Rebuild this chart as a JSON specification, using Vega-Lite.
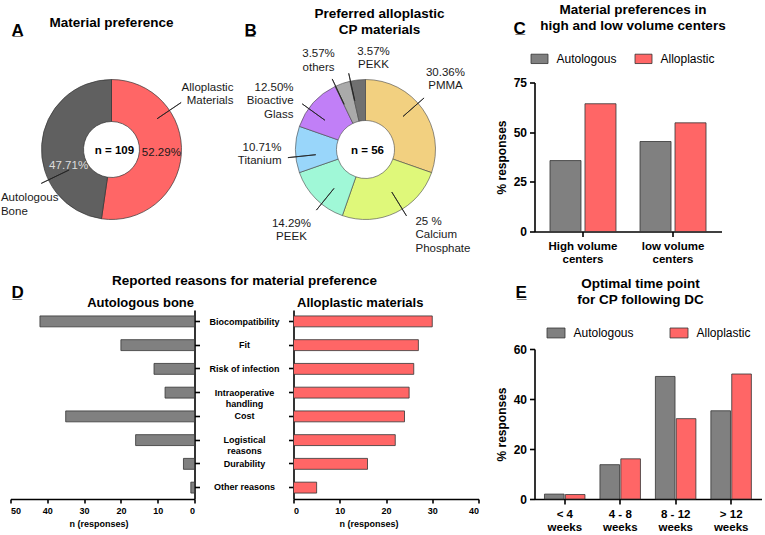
{
  "$schema": "https://vega.github.io/schema/vega-lite/v6.json",
  "background": "white",
  "padding": {"left": 0.5, "top": 2.5, "right": 0, "bottom": 0},
  "config": {
    "font": "Liberation Sans",
    "view": {"stroke": null},
    "title": {"font": "Liberation Sans", "fontSize": 13.5, "fontWeight": "bold", "color": "#000000", "lineHeight": 16},
    "axis": {"domainColor": "#000000", "domainWidth": 1.6, "tickColor": "#000000", "tickWidth": 1.6, "tickSize": 5, "labelColor": "#000000", "labelFont": "Liberation Sans", "labelFontWeight": "bold", "titleFont": "Liberation Sans", "titleFontWeight": "bold", "titleColor": "#000000", "grid": false},
    "legend": {"labelFont": "Liberation Sans", "labelColor": "#000000", "padding": 0},
    "text": {"font": "Liberation Sans"}
  },
  "datasets": {
    "empty": [],
    "prefA": [
      {"material": "Alloplastic\nMaterials", "pct": 52.29, "label": "52.29%", "idx": 1},
      {"material": "Autologous\nBone", "pct": 47.71, "label": "47.71%", "idx": 2}
    ],
    "prefB": [
      {"material": "PMMA", "pct": 30.36, "label": "30.36%\nPMMA", "idx": 1},
      {"material": "Calcium Phosphate", "pct": 25, "label": "25 %\nCalcium\nPhosphate", "idx": 2},
      {"material": "PEEK", "pct": 14.29, "label": "14.29%\nPEEK", "idx": 3},
      {"material": "Titanium", "pct": 10.71, "label": "10.71%\nTitanium", "idx": 4},
      {"material": "Bioactive Glass", "pct": 12.5, "label": "12.50%\nBioactive\nGlass", "idx": 5},
      {"material": "others", "pct": 3.57, "label": "3.57%\nothers", "idx": 6},
      {"material": "PEKK", "pct": 3.57, "label": "3.57%\nPEKK", "idx": 7}
    ],
    "reasons": [
      {"reason": "Biocompatibility", "autologous": 42, "alloplastic": 30},
      {"reason": "Fit", "autologous": 20, "alloplastic": 27},
      {"reason": "Risk of infection", "autologous": 11, "alloplastic": 26},
      {"reason": "Intraoperative\nhandling", "autologous": 8, "alloplastic": 25},
      {"reason": "Cost", "autologous": 35, "alloplastic": 24},
      {"reason": "Logistical\nreasons", "autologous": 16, "alloplastic": 22},
      {"reason": "Durability", "autologous": 3, "alloplastic": 16},
      {"reason": "Other reasons", "autologous": 1, "alloplastic": 5}
    ]
  },
  "spacing": 8.5,
  "resolve": {"scale": {"color": "independent", "xOffset": "independent"}, "legend": {"color": "independent"}},
  "vconcat": [
    {
      "spacing": 0,
      "bounds": "flush",
      "resolve": {"scale": {"color": "independent", "xOffset": "independent"}, "legend": {"color": "independent"}},
      "hconcat": [
        {"width": 1, "height": 134, "title": {"text": "A\u0332", "anchor": "start", "frame": "group", "fontSize": 17, "dx": 2, "offset": 43},
         "data": {"name": "empty"}, "mark": "point", "encoding": {}},
        {
          "width": 202, "height": 134,
          "title": {"text": "Material preference", "frame": "group", "offset": 49},
          "data": {"name": "prefA"},
          "resolve": {"scale": {"theta": "independent"}},
          "layer": [
            {"mark": {"type": "arc", "innerRadius": 28, "outerRadius": 70, "stroke": "#333333", "strokeWidth": 0.7},
             "encoding": {
               "theta": {"field": "pct", "type": "quantitative", "stack": true},
               "order": {"field": "idx", "type": "ordinal"},
               "color": {"field": "material", "type": "nominal", "scale": {"domain": ["Alloplastic\nMaterials", "Autologous\nBone"], "range": ["#FF6666", "#606060"]}, "legend": null}
             }},
            {"mark": {"type": "text", "radius": 50, "dy": -0.5, "fontSize": 11.5, "color": "#1a1a1a"},
             "encoding": {
               "theta": {"field": "pct", "type": "quantitative", "stack": true},
               "order": {"field": "idx", "type": "ordinal"},
               "text": {"condition": {"test": "datum.idx === 1", "field": "label"}, "value": ""}
             }},
            {"mark": {"type": "text", "radius": 45, "dx": 2, "dy": 20, "fontSize": 11.5, "color": "#dddddd"},
             "encoding": {
               "theta": {"field": "pct", "type": "quantitative", "stack": true},
               "order": {"field": "idx", "type": "ordinal"},
               "text": {"condition": {"test": "datum.idx === 2", "field": "label"}, "value": ""}
             }},
            {"transform": [{"stack": "pct", "groupby": [], "sort": [{"field": "idx", "order": "ascending"}], "as": ["s0", "s1"]}],
             "mark": {"type": "arc", "innerRadius": 55, "outerRadius": 84, "stroke": "#222222", "strokeWidth": 0.8, "fill": "transparent"},
             "encoding": {
               "theta": {"field": "s0", "type": "quantitative", "scale": {"domain": [0, 100], "range": [0.9774, 7.2606]}},
               "theta2": {"field": "s0"},
               "strokeOpacity": {"condition": {"test": "datum.idx === 1", "value": 1}, "value": 0}
             }},
            {"transform": [{"stack": "pct", "groupby": [], "sort": [{"field": "idx", "order": "ascending"}], "as": ["s0", "s1"]}],
             "mark": {"type": "arc", "innerRadius": 47, "outerRadius": 78, "stroke": "#222222", "strokeWidth": 0.8, "fill": "transparent"},
             "encoding": {
               "theta": {"field": "s0", "type": "quantitative", "scale": {"domain": [0, 100], "range": [0.9774, 7.2606]}},
               "theta2": {"field": "s0"},
               "strokeOpacity": {"condition": {"test": "datum.idx === 2", "value": 1}, "value": 0}
             }},
            {"transform": [{"stack": "pct", "groupby": [], "sort": [{"field": "idx", "order": "ascending"}], "as": ["s0", "s1"]}],
             "mark": {"type": "text", "radius": 100, "dx": 39, "dy": -6, "align": "right", "fontSize": 11.5, "lineBreak": "\n", "lineHeight": 13.5, "color": "#1a1a1a"},
             "encoding": {
               "theta": {"field": "s0", "type": "quantitative", "scale": {"domain": [0, 100], "range": [0.9774, 7.2606]}},
               "text": {"condition": {"test": "datum.idx === 1", "field": "material"}, "value": ""}
             }},
            {"transform": [{"stack": "pct", "groupby": [], "sort": [{"field": "idx", "order": "ascending"}], "as": ["s0", "s1"]}],
             "mark": {"type": "text", "radius": 90, "dx": -29.5, "dy": 9.5, "align": "left", "fontSize": 11.5, "lineBreak": "\n", "lineHeight": 13.5, "color": "#1a1a1a"},
             "encoding": {
               "theta": {"field": "s0", "type": "quantitative", "scale": {"domain": [0, 100], "range": [0.9774, 7.2606]}},
               "text": {"condition": {"test": "datum.idx === 2", "field": "material"}, "value": ""}
             }},
            {"data": {"values": [{"t": "n = 109"}]},
             "mark": {"type": "text", "fontSize": 11.5, "fontWeight": "bold", "dx": 3, "dy": 1, "color": "#000000"},
             "encoding": {"text": {"field": "t", "type": "nominal"}}}
          ]
        },
        {"width": 1, "height": 134, "title": {"text": "B\u0332", "anchor": "start", "frame": "group", "fontSize": 17, "dx": 32, "offset": 43},
         "data": {"name": "empty"}, "mark": "point", "encoding": {}},
        {
          "width": 304, "height": 134,
          "title": {"text": ["Preferred alloplastic", "CP materials"], "frame": "group", "dx": 14, "offset": -11},
          "data": {"name": "prefB"},
          "resolve": {"scale": {"theta": "independent"}},
          "layer": [
            {"mark": {"type": "arc", "innerRadius": 29, "outerRadius": 70, "stroke": "#444444", "strokeWidth": 0.6},
             "encoding": {
               "theta": {"field": "pct", "type": "quantitative", "stack": true},
               "order": {"field": "idx", "type": "ordinal"},
               "color": {"field": "material", "type": "nominal", "scale": {"domain": ["PMMA", "Calcium Phosphate", "PEEK", "Titanium", "Bioactive Glass", "others", "PEKK"], "range": ["#F2D080", "#DFF87A", "#A0F8D7", "#99D6FA", "#C17FF7", "#AAAAAA", "#707070"]}, "legend": null}
             }},
            {"mark": {"type": "arc", "innerRadius": 50, "outerRadius": 78, "padAngle": 3.1416, "stroke": "#222222", "strokeWidth": 0.8, "fill": "transparent"},
             "encoding": {
               "theta": {"field": "pct", "type": "quantitative", "stack": true, "scale": {"range": [-0.1047, 6.1785]}},
               "order": {"field": "idx", "type": "ordinal"}
             }},
            {"mark": {"type": "text", "radius": 100, "dx": -1.6, "dy": -18.75, "align": "center", "fontSize": 11.5, "lineBreak": "\n", "lineHeight": 13.5, "color": "#1a1a1a"},
             "encoding": {"theta": {"field": "pct", "type": "quantitative", "stack": true}, "order": {"field": "idx", "type": "ordinal"},
               "text": {"condition": {"test": "datum.idx === 1", "field": "label"}, "value": ""}}},
            {"mark": {"type": "text", "radius": 100, "dx": 6.6, "dy": -18.1, "align": "left", "fontSize": 11.5, "lineBreak": "\n", "lineHeight": 13.5, "color": "#1a1a1a"},
             "encoding": {"theta": {"field": "pct", "type": "quantitative", "stack": true}, "order": {"field": "idx", "type": "ordinal"},
               "text": {"condition": {"test": "datum.idx === 2", "field": "label"}, "value": ""}}},
            {"mark": {"type": "text", "radius": 100, "dx": -3.3, "dy": 3.5, "align": "center", "fontSize": 11.5, "lineBreak": "\n", "lineHeight": 13.5, "color": "#1a1a1a"},
             "encoding": {"theta": {"field": "pct", "type": "quantitative", "stack": true}, "order": {"field": "idx", "type": "ordinal"},
               "text": {"condition": {"test": "datum.idx === 3", "field": "label"}, "value": ""}}},
            {"mark": {"type": "text", "radius": 85, "dx": 1, "dy": -1.75, "align": "right", "fontSize": 11.5, "lineBreak": "\n", "lineHeight": 13.5, "color": "#1a1a1a"},
             "encoding": {"theta": {"field": "pct", "type": "quantitative", "stack": true}, "order": {"field": "idx", "type": "ordinal"},
               "text": {"condition": {"test": "datum.idx === 4", "field": "label"}, "value": ""}}},
            {"mark": {"type": "text", "radius": 85, "dx": -8.6, "dy": -5.3, "align": "right", "fontSize": 11.5, "lineBreak": "\n", "lineHeight": 13.5, "color": "#1a1a1a"},
             "encoding": {"theta": {"field": "pct", "type": "quantitative", "stack": true}, "order": {"field": "idx", "type": "ordinal"},
               "text": {"condition": {"test": "datum.idx === 5", "field": "label"}, "value": ""}}},
            {"mark": {"type": "text", "radius": 95, "dx": -15.6, "dy": -5.5, "align": "center", "fontSize": 11.5, "lineBreak": "\n", "lineHeight": 13.5, "color": "#1a1a1a"},
             "encoding": {"theta": {"field": "pct", "type": "quantitative", "stack": true}, "order": {"field": "idx", "type": "ordinal"},
               "text": {"condition": {"test": "datum.idx === 6", "field": "label"}, "value": ""}}},
            {"mark": {"type": "text", "radius": 95, "dx": 18.6, "dy": -3.35, "align": "center", "fontSize": 11.5, "lineBreak": "\n", "lineHeight": 13.5, "color": "#1a1a1a"},
             "encoding": {"theta": {"field": "pct", "type": "quantitative", "stack": true}, "order": {"field": "idx", "type": "ordinal"},
               "text": {"condition": {"test": "datum.idx === 7", "field": "label"}, "value": ""}}},
            {"data": {"values": [{"t": "n = 56"}]},
             "mark": {"type": "text", "fontSize": 11.5, "fontWeight": "bold", "dx": 2, "dy": 1, "color": "#000000"},
             "encoding": {"text": {"field": "t", "type": "nominal"}}}
          ]
        },
        {"width": 17, "height": 134, "title": {"text": "C\u0332", "anchor": "start", "frame": "group", "fontSize": 17, "dx": -4, "offset": 45},
         "data": {"name": "empty"}, "mark": "point", "encoding": {}},
        {
          "width": 187, "height": 149,
          "title": {"text": ["Material preferences in", "high and low volume centers"], "frame": "group", "dx": 5, "offset": 17.3},
          "data": {"values": [
            {"center": "High volume centers", "group": "Autologous", "pct": 35.7},
            {"center": "High volume centers", "group": "Alloplastic", "pct": 64.3},
            {"center": "low volume centers", "group": "Autologous", "pct": 45.3},
            {"center": "low volume centers", "group": "Alloplastic", "pct": 54.7}
          ]},
          "mark": {"type": "bar", "stroke": "#333333", "strokeWidth": 0.8},
          "encoding": {
            "x": {"field": "center", "type": "nominal", "sort": ["High volume centers", "low volume centers"], "scale": {"paddingInner": 0.267, "paddingOuter": 0.172},
                  "axis": {"title": null, "labelAngle": 0, "labelFontSize": 11.5, "labelLineHeight": 12.5, "labelPadding": 4, "labelExpr": "[replace(datum.label, ' centers', ''), 'centers']"}},
            "xOffset": {"field": "group", "type": "nominal", "sort": ["Autologous", "Alloplastic"], "scale": {"paddingInner": 0.114, "paddingOuter": 0, "range": [0, 66]}},
            "y": {"field": "pct", "type": "quantitative", "scale": {"domain": [0, 75], "nice": false},
                  "axis": {"values": [0, 25, 50, 75], "title": "% responses", "labelFontSize": 12, "titleFontSize": 12, "labelPadding": 3, "titlePadding": 5}},
            "color": {"field": "group", "type": "nominal", "sort": ["Autologous", "Alloplastic"], "scale": {"domain": ["Autologous", "Alloplastic"], "range": ["#808080", "#FF6666"]},
                      "legend": {"orient": "none", "legendX": -4, "legendY": -33, "direction": "horizontal", "title": null, "symbolType": "M-1,-0.55H1V0.55H-1Z", "symbolSize": 289, "symbolStrokeColor": "#333333", "symbolStrokeWidth": 0.8, "labelFontSize": 12, "labelOffset": 8, "columnPadding": 15}}
          }
        }
      ]
    },
    {
      "spacing": 0,
      "bounds": "flush",
      "resolve": {"scale": {"color": "independent", "xOffset": "independent"}, "legend": {"color": "independent"}},
      "hconcat": [
        {"width": 1, "height": 189, "title": {"text": "D\u0332", "anchor": "start", "frame": "group", "fontSize": 17, "dx": 2, "offset": 8},
         "data": {"name": "empty"}, "mark": "point", "encoding": {}},
        {
          "width": 468, "height": 189,
          "title": {"text": "Reported reasons for material preference", "frame": "group", "offset": 9},
          "data": {"name": "reasons"},
          "resolve": {"scale": {"x": "independent", "y": "independent"}, "axis": {"x": "independent", "y": "independent"}},
          "layer": [
            {"mark": {"type": "bar", "color": "#808080", "stroke": "#333333", "strokeWidth": 0.8},
             "encoding": {
               "y": {"field": "reason", "type": "nominal", "sort": null, "scale": {"paddingInner": 0.54, "paddingOuter": 0.25},
                     "axis": {"orient": "right", "offset": -284, "labels": false, "ticks": true, "tickSize": 5, "title": "Autologous bone", "titleAngle": 0, "titleAlign": "right", "titleBaseline": "alphabetic", "titleX": -1, "titleY": -4, "titleFontSize": 13}},
               "x": {"field": "autologous", "type": "quantitative", "scale": {"domain": [0, 50], "range": [184, 0], "nice": false},
                     "axis": {"orient": "bottom", "values": [0, 10, 20, 30, 40, 50], "title": "n (responses)", "labelFontSize": 9, "titleFontSize": 9, "tickSize": 4, "labelPadding": 3, "titlePadding": 4, "titleX": 88}}
             }},
            {"mark": {"type": "text", "fontSize": 9, "fontWeight": "bold", "lineBreak": "\n", "lineHeight": 11, "color": "#000000"},
             "encoding": {
               "y": {"field": "reason", "type": "nominal", "sort": null, "scale": {"paddingInner": 0.54, "paddingOuter": 0.25}, "axis": null},
               "text": {"field": "reason", "type": "nominal"}
             }},
            {"mark": {"type": "bar", "color": "#FF6666", "stroke": "#333333", "strokeWidth": 0.8},
             "encoding": {
               "y": {"field": "reason", "type": "nominal", "sort": null, "scale": {"paddingInner": 0.54, "paddingOuter": 0.25},
                     "axis": {"orient": "left", "offset": -283, "labels": false, "ticks": true, "tickSize": 5, "title": "Alloplastic materials", "titleAngle": 0, "titleAlign": "left", "titleBaseline": "alphabetic", "titleX": 3, "titleY": -4, "titleFontSize": 13}},
               "x": {"field": "alloplastic", "type": "quantitative", "scale": {"domain": [0, 40], "range": [283, 468], "nice": false},
                     "axis": {"orient": "bottom", "values": [0, 10, 20, 30, 40], "title": "n (responses)", "labelFontSize": 9, "titleFontSize": 9, "tickSize": 4, "labelPadding": 3, "titlePadding": 4, "titleX": 358}}
             }}
          ]
        },
        {"width": 56, "height": 1, "title": {"text": "E\u0332", "anchor": "start", "frame": "group", "fontSize": 17, "dx": 37, "offset": 8},
         "data": {"name": "empty"}, "mark": "point", "encoding": {}},
        {
          "width": 227, "height": 189,
          "title": {"text": ["Optimal time point", "for CP following DC"], "frame": "group", "dx": -7.5, "offset": 4},
          "data": {"values": [
            {"time": "< 4 weeks", "group": "Autologous", "pct": 1.96},
            {"time": "< 4 weeks", "group": "Alloplastic", "pct": 1.79},
            {"time": "4 - 8 weeks", "group": "Autologous", "pct": 13.73},
            {"time": "4 - 8 weeks", "group": "Alloplastic", "pct": 16.07},
            {"time": "8 - 12 weeks", "group": "Autologous", "pct": 49.02},
            {"time": "8 - 12 weeks", "group": "Alloplastic", "pct": 32.14},
            {"time": "> 12 weeks", "group": "Autologous", "pct": 35.29},
            {"time": "> 12 weeks", "group": "Alloplastic", "pct": 50.0}
          ]},
          "mark": {"type": "bar", "stroke": "#333333", "strokeWidth": 0.8},
          "encoding": {
            "x": {"field": "time", "type": "nominal", "sort": ["< 4 weeks", "4 - 8 weeks", "8 - 12 weeks", "> 12 weeks"], "scale": {"paddingInner": 0.267, "paddingOuter": 0.18},
                  "axis": {"title": null, "labelAngle": 0, "labelFontSize": 11.5, "labelLineHeight": 13, "labelPadding": 4, "labelExpr": "[replace(datum.label, ' weeks', ''), 'weeks']"}},
            "xOffset": {"field": "group", "type": "nominal", "sort": ["Autologous", "Alloplastic"], "scale": {"paddingInner": 0.06, "paddingOuter": 0, "range": [0, 40.5]}},
            "y": {"field": "pct", "type": "quantitative", "scale": {"domain": [0, 60], "nice": false, "range": [189, 39]},
                  "axis": {"values": [0, 20, 40, 60], "title": "% responses", "labelFontSize": 12, "titleFontSize": 12, "labelPadding": 3, "titlePadding": 5}},
            "color": {"field": "group", "type": "nominal", "sort": ["Autologous", "Alloplastic"], "scale": {"domain": ["Autologous", "Alloplastic"], "range": ["#808080", "#FF6666"]},
                      "legend": {"orient": "none", "legendX": 12, "legendY": 13, "direction": "horizontal", "title": null, "symbolType": "M-1,-0.55H1V0.55H-1Z", "symbolSize": 324, "symbolStrokeColor": "#333333", "symbolStrokeWidth": 0.8, "labelFontSize": 12, "labelOffset": 8, "columnPadding": 33}}
          }
        }
      ]
    }
  ]
}
